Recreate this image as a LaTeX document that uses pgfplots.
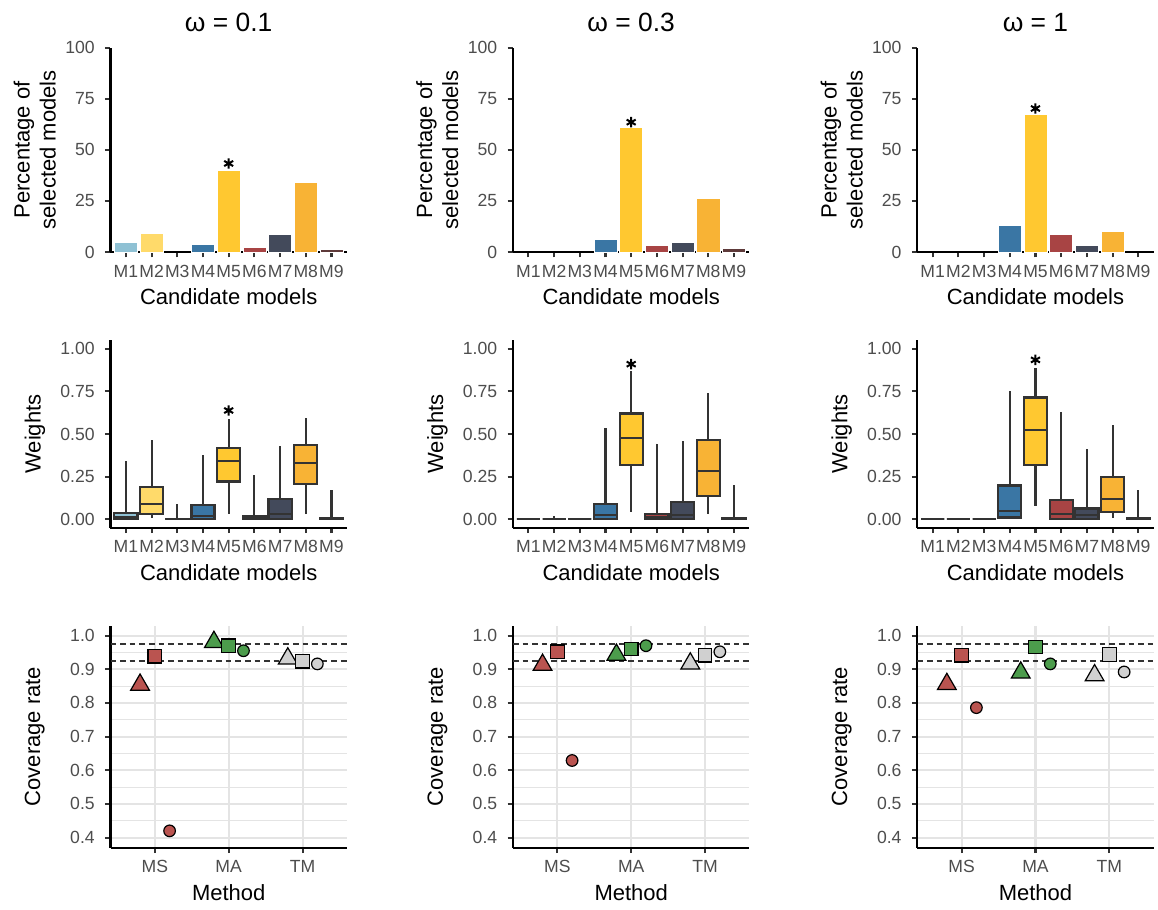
\documentclass[border=0pt]{standalone}
\usepackage{fontspec}
\setmainfont{Liberation Sans}
\usepackage{pgfplots}
\pgfplotsset{compat=1.18}
\usepgfplotslibrary{statistics}

\definecolor{cM1}{HTML}{8FC1D4}
\definecolor{cM2}{HTML}{FFDA6A}
\definecolor{cM3}{HTML}{EDEDED}
\definecolor{cM4}{HTML}{3A76A4}
\definecolor{cM5}{HTML}{FFC830}
\definecolor{cM6}{HTML}{A84444}
\definecolor{cM7}{HTML}{434A5B}
\definecolor{cM8}{HTML}{F8B335}
\definecolor{cM9}{HTML}{5E3A3A}
\definecolor{cMS}{HTML}{BA5450}
\definecolor{cMA}{HTML}{4C9C4C}
\definecolor{cTM}{HTML}{D0D0D0}
\definecolor{tickgrey}{HTML}{4D4D4D}
\definecolor{gridgrey}{HTML}{E4E4E4}

\pgfplotsset{
  panel/.style={
    scale only axis, width=118.2pt, anchor=south west,
    axis lines*=left,
    axis line style={line width=1.07pt, black},
    tick align=outside, major tick length=2.75pt,
    tick style={line width=1.07pt, black!80},
    ticklabel style={font=\fontsize{8.8}{10}\selectfont, text=tickgrey},
    /pgf/number format/assume math mode=true,
    every axis y label/.style={at={(axis description cs:-0.32,0.5)}, rotate=90, anchor=center, align=center, font=\fontsize{11}{13}\selectfont},
    every axis x label/.style={at={(axis description cs:0.5,0)}, anchor=base, yshift=-26.5pt, font=\fontsize{11}{13}\selectfont},
    xticklabel style={anchor=base, inner sep=0pt, yshift=-9.9pt},
    yticklabel style={anchor=east, inner sep=0pt, xshift=-4.95pt},
    every axis title/.style={at={(0.5,1)}, anchor=base, yshift=7.8pt, font=\fontsize{13.2}{15}\selectfont},
    clip=false,
  },
  models/.style={xmin=0.4, xmax=9.6, xtick={1,2,3,4,5,6,7,8,9},
    xticklabels={M1,M2,M3,M4,M5,M6,M7,M8,M9}, xlabel={Candidate models}},
  row1/.style={panel, models, height=102.2pt, ymin=0, ymax=100,
    ytick={0,25,50,75,100}, ylabel={Percentage of\\selected models}},
  row2/.style={panel, models, height=93.7pt, ymin=-0.05, ymax=1.05,
    ytick={0,0.25,0.5,0.75,1}, ylabel={Weights}, boxplot/draw direction=y,
    yticklabel style={/pgf/number format/.cd, fixed, fixed zerofill, precision=2}},
  row3/.style={panel, height=111.1pt, xmin=0.4, xmax=3.6, ymin=0.37, ymax=1.03,
    xtick={1,2,3}, xticklabels={MS,MA,TM}, xlabel={Method},
    ytick={0.4,0.5,0.6,0.7,0.8,0.9,1.0}, minor ytick={0.45,0.55,0.65,0.75,0.85,0.95},
    ylabel={Coverage rate},
    yticklabel style={/pgf/number format/.cd, fixed, fixed zerofill, precision=1},
    xmajorgrids=true, ymajorgrids=true, yminorgrids=true,
    major grid style={line width=1.07pt, gridgrey},
    minor grid style={line width=0.53pt, gridgrey},
    minor tick length=0pt},
  bar/.style={ybar, bar width=0.9, bar shift=0pt, fill=#1, draw=white, line width=0.3pt},
  star/.style={only marks, mark=asterisk, mark size=2.6pt, mark options={line width=1pt, black}},
  tri/.style={only marks, mark=triangle*, mark size=5.4pt, mark options={draw=black, line width=0.6pt, fill=#1}},
  sqr/.style={only marks, mark=square*, mark size=3.4pt, mark options={draw=black, line width=0.6pt, fill=#1}},
  cir/.style={only marks, mark=*, mark size=2.9pt, mark options={draw=black, line width=0.6pt, fill=#1}},
  ref/.style={dash pattern=on 2.8pt off 2pt, line width=0.9pt, black!80},
}

% position, colour, lower whisker, lower quartile, median, upper quartile, upper whisker
\newcommand{\bx}[7]{\addplot[boxplot prepared={draw position=#1, lower whisker=#3,
  lower quartile=#4, median=#5, upper quartile=#6, upper whisker=#7,
  box extend=0.9, whisker extend=0}, fill=#2, draw=black!80, line width=1.07pt] coordinates {};}

\begin{document}
\begin{tikzpicture}
\useasboundingbox (0,0) rectangle (579pt,455pt);

% ---------------- Row 1: percentage of selected models ----------------
\begin{axis}[row1, at={(55.25pt,329pt)}, title={ω = 0.1}]
\addplot[bar=cM1] coordinates {(1,4.7)};
\addplot[bar=cM2] coordinates {(2,9.1)};
\addplot[bar=cM4] coordinates {(4,3.9)};
\addplot[bar=cM5] coordinates {(5,40.2)};
\addplot[bar=cM6] coordinates {(6,2.4)};
\addplot[bar=cM7] coordinates {(7,8.5)};
\addplot[bar=cM8] coordinates {(8,34.3)};
\addplot[bar=cM9] coordinates {(9,1.1)};
\addplot[star] coordinates {(5,43.3)};
\end{axis}

\begin{axis}[row1, at={(256.5pt,329pt)}, title={ω = 0.3}]
\addplot[bar=cM4] coordinates {(4,6.2)};
\addplot[bar=cM5] coordinates {(5,60.8)};
\addplot[bar=cM6] coordinates {(6,3.4)};
\addplot[bar=cM7] coordinates {(7,4.7)};
\addplot[bar=cM8] coordinates {(8,26.1)};
\addplot[bar=cM9] coordinates {(9,1.9)};
\addplot[star] coordinates {(5,63.5)};
\end{axis}

\begin{axis}[row1, at={(458.65pt,329pt)}, title={ω = 1}]
\addplot[bar=cM4] coordinates {(4,12.9)};
\addplot[bar=cM5] coordinates {(5,67.6)};
\addplot[bar=cM6] coordinates {(6,8.5)};
\addplot[bar=cM7] coordinates {(7,3.4)};
\addplot[bar=cM8] coordinates {(8,10.0)};
\addplot[star] coordinates {(5,70.2)};
\end{axis}

% ---------------- Row 2: weights ----------------
\begin{axis}[row2, at={(55.25pt,191.15pt)}]
\bx{1}{cM1}{0}{0}{0.01}{0.037}{0.339}
\bx{2}{cM2}{0.005}{0.03}{0.09}{0.188}{0.464}
\bx{3}{cM3}{0}{0}{0}{0.002}{0.092}
\bx{4}{cM4}{0}{0}{0.02}{0.082}{0.374}
\bx{5}{cM5}{0.033}{0.221}{0.339}{0.417}{0.587}
\bx{6}{cM6}{0}{0}{0.005}{0.02}{0.258}
\bx{7}{cM7}{0}{0}{0.03}{0.116}{0.428}
\bx{8}{cM8}{0.028}{0.204}{0.329}{0.434}{0.595}
\bx{9}{cM9}{0}{0}{0.002}{0.008}{0.17}
\addplot[star] coordinates {(5,0.638)};
\end{axis}

\begin{axis}[row2, at={(256.5pt,191.15pt)}]
\bx{1}{cM1}{0}{0}{0}{0}{0}
\bx{2}{cM2}{0}{0}{0}{0}{0.02}
\bx{3}{cM3}{0}{0}{0}{0}{0}
\bx{4}{cM4}{0}{0}{0.022}{0.09}{0.534}
\bx{5}{cM5}{0.041}{0.319}{0.479}{0.62}{0.871}
\bx{6}{cM6}{0}{0}{0.01}{0.03}{0.444}
\bx{7}{cM7}{0}{0}{0.022}{0.1}{0.456}
\bx{8}{cM8}{0.028}{0.135}{0.284}{0.464}{0.738}
\bx{9}{cM9}{0}{0}{0.002}{0.008}{0.2}
\addplot[star] coordinates {(5,0.91)};
\end{axis}

\begin{axis}[row2, at={(458.65pt,191.15pt)}]
\bx{1}{cM1}{0}{0}{0}{0}{0}
\bx{2}{cM2}{0}{0}{0}{0}{0}
\bx{3}{cM3}{0}{0}{0}{0}{0}
\bx{4}{cM4}{0}{0.01}{0.047}{0.198}{0.753}
\bx{5}{cM5}{0.079}{0.317}{0.522}{0.714}{0.886}
\bx{6}{cM6}{0}{0}{0.03}{0.114}{0.63}
\bx{7}{cM7}{0}{0}{0.022}{0.063}{0.413}
\bx{8}{cM8}{0.008}{0.043}{0.116}{0.25}{0.552}
\bx{9}{cM9}{0}{0}{0.002}{0.008}{0.17}
\addplot[star] coordinates {(5,0.935)};
\end{axis}

% ---------------- Row 3: coverage rate ----------------
\begin{axis}[row3, at={(55.25pt,31.15pt)}]
\addplot[ref] coordinates {(0.4,0.975) (3.6,0.975)};
\addplot[ref] coordinates {(0.4,0.925) (3.6,0.925)};
\addplot[tri=cMS] coordinates {(0.8,0.854)};
\addplot[sqr=cMS] coordinates {(1.0,0.939)};
\addplot[cir=cMS] coordinates {(1.2,0.420)};
\addplot[tri=cMA] coordinates {(1.8,0.981)};
\addplot[sqr=cMA] coordinates {(2.0,0.970)};
\addplot[cir=cMA] coordinates {(2.2,0.955)};
\addplot[tri=cTM] coordinates {(2.8,0.932)};
\addplot[sqr=cTM] coordinates {(3.0,0.924)};
\addplot[cir=cTM] coordinates {(3.2,0.916)};
\end{axis}

\begin{axis}[row3, at={(256.5pt,31.15pt)}]
\addplot[ref] coordinates {(0.4,0.975) (3.6,0.975)};
\addplot[ref] coordinates {(0.4,0.925) (3.6,0.925)};
\addplot[tri=cMS] coordinates {(0.8,0.913)};
\addplot[sqr=cMS] coordinates {(1.0,0.952)};
\addplot[cir=cMS] coordinates {(1.2,0.629)};
\addplot[tri=cMA] coordinates {(1.8,0.943)};
\addplot[sqr=cMA] coordinates {(2.0,0.960)};
\addplot[cir=cMA] coordinates {(2.2,0.970)};
\addplot[tri=cTM] coordinates {(2.8,0.917)};
\addplot[sqr=cTM] coordinates {(3.0,0.942)};
\addplot[cir=cTM] coordinates {(3.2,0.952)};
\end{axis}

\begin{axis}[row3, at={(458.65pt,31.15pt)}]
\addplot[ref] coordinates {(0.4,0.975) (3.6,0.975)};
\addplot[ref] coordinates {(0.4,0.925) (3.6,0.925)};
\addplot[tri=cMS] coordinates {(0.8,0.856)};
\addplot[sqr=cMS] coordinates {(1.0,0.942)};
\addplot[cir=cMS] coordinates {(1.2,0.786)};
\addplot[tri=cMA] coordinates {(1.8,0.890)};
\addplot[sqr=cMA] coordinates {(2.0,0.966)};
\addplot[cir=cMA] coordinates {(2.2,0.916)};
\addplot[tri=cTM] coordinates {(2.8,0.882)};
\addplot[sqr=cTM] coordinates {(3.0,0.944)};
\addplot[cir=cTM] coordinates {(3.2,0.892)};
\end{axis}
\end{tikzpicture}
\end{document}
